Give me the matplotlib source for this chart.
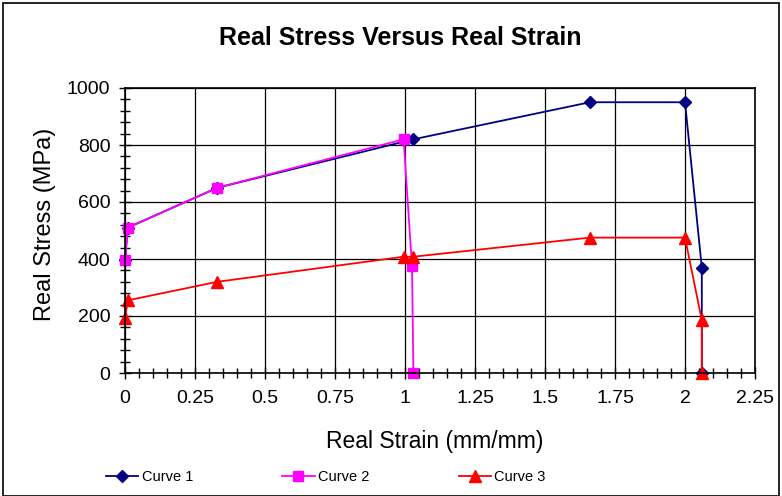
import matplotlib
matplotlib.use("Agg")
import matplotlib.pyplot as plt
from matplotlib.patches import Rectangle
from matplotlib.ticker import MultipleLocator

plt.rcParams['font.family'] = ['Liberation Sans', 'DejaVu Sans']

# Data
curve1_x = [0, 0.01, 0.33, 1.03, 1.66, 2.0, 2.06, 2.06]
curve1_y = [395, 510, 650, 820, 950, 950, 370, 0]
curve2_x = [0, 0.01, 0.33, 0.995, 1.025, 1.03]
curve2_y = [395, 510, 650, 820, 375, 0]
curve3_x = [0, 0.01, 0.33, 0.995, 1.03, 1.66, 2.0, 2.06, 2.06]
curve3_y = [193, 255, 320, 408, 408, 475, 475, 185, 0]
labels = ["Curve 1", "Curve 2", "Curve 3"]

fig = plt.figure(figsize=(7.82, 4.96), dpi=100)
ax = fig.add_axes([125/782, 1-373/496, (755-125)/782, (373-88)/496])

ax.plot(curve1_x, curve1_y, color='#000080', marker='D', markersize=6, lw=1.3, label=labels[0], clip_on=False)
ax.plot(curve2_x, curve2_y, color='#FF00FF', marker='s', markersize=7, lw=1.3, label=labels[1], clip_on=False)
ax.plot(curve3_x, curve3_y, color='#FF0000', marker='^', markersize=8, lw=1.3, label=labels[2], clip_on=False)

ax.set_xlim(0, 2.25)
ax.set_ylim(0, 1000)
ax.xaxis.set_minor_locator(MultipleLocator(0.05))
ax.yaxis.set_major_locator(MultipleLocator(200))
ax.yaxis.set_minor_locator(MultipleLocator(40))
ax.set_xticks([0, 0.25, 0.5, 0.75, 1, 1.25, 1.5, 1.75, 2, 2.25])
ax.set_xticklabels(['0', '0.25', '0.5', '0.75', '1', '1.25', '1.5', '1.75', '2', '2.25'])
ax.grid(True, which='major', color='black', lw=0.9)
ax.set_axisbelow(True)
ax.tick_params(which='major', direction='inout', length=9, width=1, labelsize=14, colors='black')
ax.tick_params(which='minor', direction='inout', length=7, width=1)
ax.tick_params(axis='x', pad=8)
ax.tick_params(axis='y', pad=6)
for s in ax.spines.values():
    s.set_linewidth(1.2)
    s.set_color('black')

ax.set_xlabel('Real Strain (mm/mm)', fontsize=16.5)
ax.xaxis.set_label_coords((435-125)/630, -(430-373)/285)
ax.set_ylabel('Real Stress (MPa)', fontsize=17)
ax.yaxis.set_label_coords((56-125)/630, (373-224)/285)
fig.text(400/782, 1-38/496, 'Real Stress Versus Real Strain', fontsize=18, fontweight='bold',
         ha='center', va='center')

fig.legend(loc='center', bbox_to_anchor=(326/782, 1-477/496), ncol=3, frameon=False,
           prop={'size': 10.5}, handlelength=2.2, handletextpad=0.25, columnspacing=6.1)

fig.patches.append(Rectangle((3/782, 0), 1-6/782, 1-3/496, transform=fig.transFigure,
                             fill=False, edgecolor='black', lw=1.2))

fig.savefig('out.png', dpi=100)
